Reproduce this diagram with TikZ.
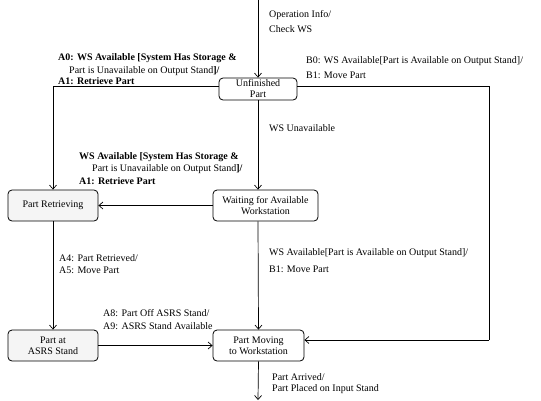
\documentclass[tikz,border=0pt]{standalone}
\usepackage{fontspec}
\setmainfont{Liberation Serif}
\usetikzlibrary{arrows.meta}
\begin{document}
\begin{tikzpicture}[x=1pt,y=-1pt,
  state/.style={draw,rounded corners=4pt,line width=0.8pt,align=center,inner sep=1pt,font=\fontsize{10}{11}\selectfont},
  grey/.style={fill=black!4},
  lbl/.style={anchor=west,inner sep=0pt,font=\fontsize{10}{11}\selectfont},
  conn/.style={line width=0.7pt,-{Straight Barb[length=4pt,width=7pt]}},
  plain/.style={line width=0.7pt}]
\useasboundingbox (0,0) rectangle (541,400);
\node[state,minimum width=78pt,minimum height=22pt] (up) at (258,89) {Unfinished\\Part};
\node[state,grey,minimum width=90pt,minimum height=31pt] (pr) at (53,205.5) {Part Retrieving};
\node[state,minimum width=105pt,minimum height=31pt] (wait) at (265.5,205.5) {Waiting for Available\\Workstation};
\node[state,grey,minimum width=90pt,minimum height=31pt] (asrs) at (53,345.5) {Part at\\ASRS Stand};
\node[state,minimum width=91pt,minimum height=31pt] (pm) at (258.5,345.5) {Part Moving\\to Workstation};
\coordinate (start) at (258,0);
\coordinate (finish) at (258,400);
\coordinate (rc) at (489,340);
\draw[conn] (start) -- (up.north);
\draw[conn] ([yshift=3pt]up.west) -| (pr.north);
\draw[plain] ([yshift=3pt]up.east) -| (rc);
\draw[conn] (rc) -- ([yshift=5.5pt]pm.east);
\draw[conn] (up.south) -- (up.south |- wait.north);
\draw[conn] (wait.west) -- (pr.east);
\draw[conn] (pr.south) -- (asrs.north);
\draw[conn] (up.south |- wait.south) -- (pm.north);
\draw[conn] (asrs.east) -- (pm.west);
\draw[conn] (pm.south) -- (finish);
% labels
\node[lbl] (l1) at (269,15) {Operation Info/};
\node[lbl] (l2) at (269,29) {Check WS};
\node[lbl] (l3) at (58,58) {\textbf{A0: WS Available [System Has Storage \&}};
\node[lbl] (l4) at (69,71) {Part is Unavailable on Output Stand\textbf{]/}};
\node[lbl] (l5) at (58,81) {\textbf{A1: Retrieve Part}};
\node[lbl] (l6) at (306,61) {B0: WS Available[Part is Available on Output Stand]/};
\node[lbl] (l7) at (306,75) {B1: Move Part};
\node[lbl] (l8) at (269,128) {WS Unavailable};
\node[lbl] (l9) at (79,157) {\textbf{WS Available [System Has Storage \&}};
\node[lbl] (l10) at (92,169) {Part is Unavailable on Output Stand\textbf{]/}};
\node[lbl] (l11) at (79,181) {\textbf{A1: Retrieve Part}};
\node[lbl] (l12) at (59,258) {A4: Part Retrieved/};
\node[lbl] (l13) at (59,270) {A5: Move Part};
\node[lbl] (l14) at (269,253) {WS Available[Part is Available on Output Stand]/};
\node[lbl] (l15) at (269,269) {B1: Move Part};
\node[lbl] (l16) at (103,313) {A8: Part Off ASRS Stand/};
\node[lbl] (l17) at (103,326) {A9: ASRS Stand Available};
\node[lbl] (l18) at (272,377) {Part Arrived/};
\node[lbl] (l19) at (272,389) {Part Placed on Input Stand};
\end{tikzpicture}
\end{document}
